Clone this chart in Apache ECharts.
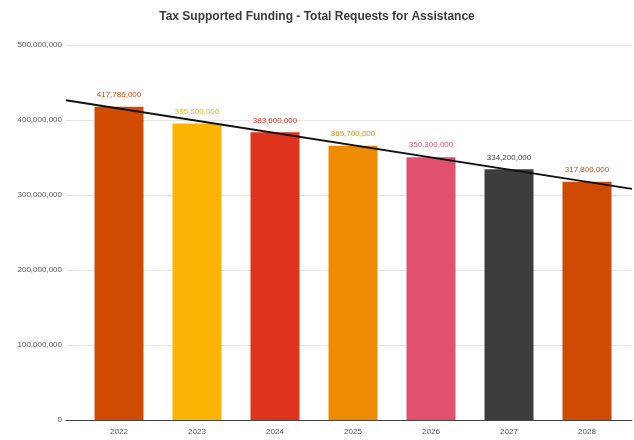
<!DOCTYPE html>
<html>
<head>
<meta charset="utf-8">
<script src="https://cdn.jsdelivr.net/npm/echarts@6/dist/echarts.min.js"></script>
<style>
  html, body { margin: 0; padding: 0; background: #fff; }
  #chart { width: 634px; height: 440px; }
</style>
</head>
<body>
<div id="chart"></div>
<script>
// Yearly totals of tax supported funding requests
const years = ['2022', '2023', '2024', '2025', '2026', '2027', '2028'];
const requests = [417786000, 395500000, 383600000, 365700000, 350300000, 334200000, 317800000];
const barColors = ['#d04c04', '#fbb304', '#e0331c', '#ee8b02', '#e0506f', '#3d3d3d', '#cf4b03'];
const yTicks = [0, 100000000, 200000000, 300000000, 400000000, 500000000];

// Least-squares linear trend over the yearly values
function linearTrend(values) {
  const n = values.length;
  let sx = 0, sy = 0, sxy = 0, sxx = 0;
  values.forEach((v, i) => { sx += i; sy += v; sxy += i * v; sxx += i * i; });
  const slope = (n * sxy - sx * sy) / (n * sxx - sx * sx);
  const intercept = (sy - slope * sx) / n;
  return x => intercept + slope * x;
}
const trend = linearTrend(requests);

// The trend spans the whole plot width: the outer grid reaches a little
// past the category bands on both sides (band width is 78px)
const trendMin = -0.5 - 14 / 78;
const trendMax = 6.5 + 6 / 78;
const trendData = [trendMin, trendMax].map(x => [x, trend(x)]);

const fmt = v => v.toLocaleString('en-US');
const font = 'Liberation Sans, Arial, sans-serif';

const chart = echarts.init(document.getElementById('chart'), null, { renderer: 'canvas' });
chart.setOption({
  animation: false,
  backgroundColor: '#ffffff',
  title: {
    text: 'Tax Supported Funding - Total Requests for Assistance',
    left: 'center',
    top: 6,
    textStyle: { fontFamily: font, fontSize: 12, fontWeight: 'bold', color: '#3a3a3a' }
  },
  grid: [
    { left: 66, right: 2, top: 45, bottom: 20 },
    { left: 80, right: 8, top: 45, bottom: 20 }
  ],
  xAxis: [
    {
      type: 'value', gridIndex: 0, min: trendMin, max: trendMax,
      axisLine: { show: true, onZero: false, lineStyle: { color: '#444', width: 1 } },
      axisTick: { show: false }, axisLabel: { show: false }, splitLine: { show: false }
    },
    {
      type: 'category', gridIndex: 1, data: years,
      axisLine: { show: false }, axisTick: { show: false },
      axisLabel: { margin: 8, fontSize: 8, color: '#555', fontFamily: font }
    }
  ],
  yAxis: [
    {
      type: 'value', gridIndex: 0, min: 0, max: 500000000, interval: 100000000,
      axisLine: { show: false }, axisTick: { show: false },
      axisLabel: {
        margin: 4, fontSize: 8, color: '#555', fontFamily: font,
        formatter: v => (yTicks.includes(v) ? fmt(v) : '')
      },
      splitLine: { show: true, lineStyle: { color: '#e6e6e6', width: 1 } }
    },
    {
      type: 'value', gridIndex: 1, min: 0, max: 500000000, interval: 100000000,
      show: false
    }
  ],
  series: [
    {
      type: 'bar',
      xAxisIndex: 1, yAxisIndex: 1,
      barWidth: 49,
      data: requests.map((v, i) => ({
        value: v,
        itemStyle: { color: barColors[i] },
        label: { color: barColors[i] }
      })),
      label: {
        show: true, position: 'top', distance: 8,
        fontSize: 8, fontFamily: font,
        formatter: p => fmt(p.value)
      },
      z: 2
    },
    {
      type: 'line',
      xAxisIndex: 0, yAxisIndex: 0,
      data: trendData,
      symbol: 'none',
      lineStyle: { color: '#111', width: 2 },
      silent: true,
      z: 5
    }
  ]
});
</script>
</body>
</html>
